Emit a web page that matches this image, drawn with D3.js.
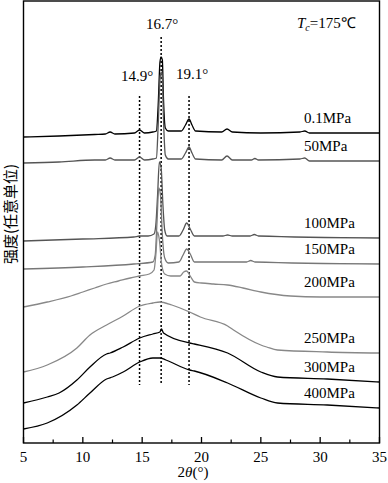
<!DOCTYPE html>
<html><head><meta charset="utf-8">
<script src="https://cdn.jsdelivr.net/npm/d3@7"></script>
<style>
html,body{margin:0;padding:0;background:#fff;}
svg{display:block;}
</style></head>
<body>
<svg id="chart" width="388" height="483"></svg>
<script>
// ---- data (2θ in degrees, intensity in arbitrary units) ----
const seriesNames = ["0.1MPa","50MPa","100MPa","150MPa","200MPa","250MPa","300MPa","400MPa"];
const seriesColors = ["#000000","#555555","#555555","#777777","#888888","#888888","#000000","#000000"];

const theta_01 = [5,8,11,11.9,12.3,12.7,14.35,14.78,15.2,15.9,16.2,16.35,16.5,16.6,16.7,16.8,16.95,17.2,18.3,18.65,18.95,19.2,19.5,21.7,22.15,22.6,25,28.3,28.7,29.1,35];
const int_01   = [306,307,308.5,309,311,309,310,313,310,311,312,338,381,386,383,343,315,312,312,318,324,318,312,311,314,311,310,311,312,310,310];

const theta_50 = [5,8,11,11.9,12.3,12.7,14.35,14.78,15.2,15.9,16.2,16.35,16.5,16.6,16.7,16.8,16.95,17.2,18.3,18.65,18.95,19.2,19.5,21.7,22.15,22.6,24.2,24.5,24.8,28.3,28.7,29.1,35];
const int_50   = [280,281,283,283,285,283,283,286,283,284,285,318,363,371,365,323,288,284,284,290,296,290,284,283,287,283,283,284.5,283,284,285,282,282];

const theta_100 = [5,10,14.3,14.78,15.5,16.0,16.15,16.3,16.45,16.6,16.75,16.9,17.1,18.1,18.45,18.75,19.05,19.4,21.8,22.2,22.6,24.1,24.45,24.8,35];
const int_100   = [202,204,206,207,207,209,218,248,281,275,238,213,207,207,213,220,214,207,207,208,207,207,208.5,207,205];

const theta_150 = [5,10,14.3,15.9,16.1,16.25,16.4,16.55,16.7,16.9,17.2,18.1,18.45,18.75,19.05,19.4,23.8,24.15,24.5,35];
const int_150   = [174,176,179,181,188,221,255,247,208,185,180,181,188,194,189,181,181,182.5,181,179];

const theta_200 = [5,7,9,10,11,12,13,14,14.8,15.6,16.0,16.15,16.3,16.45,16.65,16.9,17.4,18.2,18.5,18.75,19.05,19.4,20,21,22.2,23.5,25,27.5,30,35];
const int_200   = [136,141,147,151,155,159,162,165,167,169,173,188,211,203,178,169,167,167,171,172,167,161,160,159,158,155,151,147,146,146];

const theta_250 = [5,7,9.5,10.6,12.0,13.4,14.8,15.9,16.5,17.5,19,19.9,22.2,22.7,25,25.5,26.4,30.6,35];
const int_250   = [71,78,95,108,118,127,137,140,141,138,131,126,117,113,98,96,93,91,90];

const theta_300 = [5,7,8,9.5,10.6,12,12.3,13.4,14.8,15.9,16.5,16.62,16.8,19,19.4,22.2,25,26.4,30.6,35];
const int_300   = [40,46,50,63,76,89,90,96,105,109,111,114,110,100,99,90,71,66,64,61];

const theta_400 = [5,7,9.5,10.6,12,12.5,13.4,14.8,15.9,16.5,17,19,19.4,22.2,25,26.4,30.6,35];
const int_400   = [14,20,38,50,64,66,71,81,85,85,83,73,72,60,45,40,38,35];

const allTheta = [theta_01,theta_50,theta_100,theta_150,theta_200,theta_250,theta_300,theta_400];
const allInt   = [int_01,int_50,int_100,int_150,int_200,int_250,int_300,int_400];

const xTicks = [5,10,15,20,25,30,35];
const xMinorTicks = [7.5,12.5,17.5,22.5,27.5,32.5];
const refLines = [14.78, 16.6, 18.95];
const refLabels = ["14.9°","16.7°","19.1°"];

// ---- layout ----
const svg = d3.select("#chart");
const L = 23.5, R = 379.5, T = 1, B = 443;
const serif = "'Liberation Serif','Times New Roman',serif";

const x = d3.scaleLinear().domain([5,35]).range([L,R]);
const y = d3.scaleLinear().domain([0,442]).range([B,T]);

// reference dotted lines
const refTop = [347, 406, 347];   // intensities where dotted lines begin
const refBottom = 58;
svg.append("g").selectAll("line").data(refLines).join("line")
  .attr("x1",d=>x(d)).attr("x2",d=>x(d))
  .attr("y1",(d,i)=>y(refTop[i])).attr("y2",y(refBottom))
  .attr("stroke","#000").attr("stroke-width",1.5).attr("stroke-dasharray","2,2");

// curves
const line = d3.line().x(d=>x(d[0])).y(d=>y(d[1])).curve(d3.curveMonotoneX);
seriesNames.forEach((name,i)=>{
  const pts = allTheta[i].map((t,j)=>[t, allInt[i][j]]);
  svg.append("path").datum(pts).attr("d",line)
    .attr("fill","none").attr("stroke",seriesColors[i]).attr("stroke-width",1.3)
    .attr("stroke-linejoin","round");
  const last = pts[pts.length-1];
  svg.append("text").attr("x",304).attr("y",y(last[1])-10)
    .attr("font-family",serif).attr("font-size",15).attr("fill","#000")
    .text(name);
});

// peak labels
const refLabelY = [81, 29, 79];
const refLabelX = [137, 162, 192];
refLabels.forEach((t,i)=>{
  svg.append("text").attr("x",refLabelX[i]).attr("y",refLabelY[i])
    .attr("text-anchor","middle").attr("font-family",serif).attr("font-size",15)
    .text(t);
});

// Tc label
const tc = svg.append("text").attr("x",297).attr("y",28)
  .attr("font-family",serif).attr("font-size",15);
tc.append("tspan").attr("font-style","italic").text("T");
tc.append("tspan").attr("font-style","italic").attr("font-size",10).attr("dy",3).text("c");
tc.append("tspan").attr("dy",-3).text("=175℃");

// frame
svg.append("rect").attr("x",L).attr("y",T).attr("width",R-L).attr("height",B-T)
  .attr("fill","none").attr("stroke","#000").attr("stroke-width",1.4);

// ticks
svg.append("g").selectAll("line").data(xTicks).join("line")
  .attr("x1",d=>x(d)).attr("x2",d=>x(d)).attr("y1",B).attr("y2",B-6)
  .attr("stroke","#000").attr("stroke-width",1.3);
svg.append("g").selectAll("line").data(xMinorTicks).join("line")
  .attr("x1",d=>x(d)).attr("x2",d=>x(d)).attr("y1",B).attr("y2",B-3.5)
  .attr("stroke","#000").attr("stroke-width",1.2);
svg.append("g").selectAll("text").data(xTicks).join("text")
  .attr("x",d=>x(d)).attr("y",462).attr("text-anchor","middle")
  .attr("font-family",serif).attr("font-size",15).text(d=>d);

// axis titles
const xt = svg.append("text").attr("x",193).attr("y",477).attr("text-anchor","middle")
  .attr("font-family",serif).attr("font-size",15);
xt.append("tspan").text("2");
xt.append("tspan").attr("font-style","italic").text("θ");
xt.append("tspan").text("(°)");

svg.append("text").attr("transform","translate(16,214) rotate(-90)")
  .attr("text-anchor","middle").attr("font-family","'Noto Sans CJK SC',sans-serif")
  .attr("font-size",15).text("强度(任意单位)");
</script>
</body></html>
